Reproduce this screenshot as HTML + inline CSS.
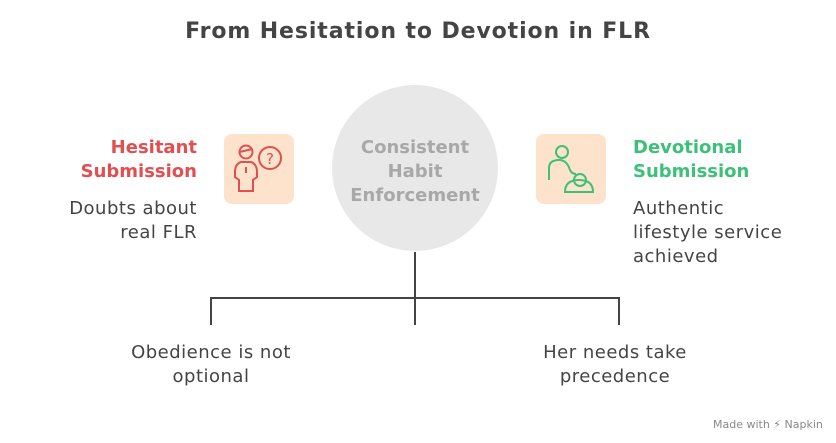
<!DOCTYPE html>
<html><head><style>
body{margin:0;width:836px;height:443px;background:#fff;position:relative;font-family:"DejaVu Sans","Liberation Sans",sans-serif;overflow:hidden}
.t{position:absolute;white-space:nowrap;letter-spacing:0.5px}
.b{letter-spacing:0}
</style></head><body>
<div class="t" style="left:0;width:836px;top:19px;text-align:center;font-size:22px;font-weight:bold;color:#444;letter-spacing:0.9px">From Hesitation to Devotion in FLR</div>
<svg width="836" height="443" style="position:absolute;left:0;top:0">
<circle cx="415" cy="168" r="83" fill="#e8e8e8"/>
<g stroke="#444" stroke-width="2" fill="none">
<line x1="415" y1="252" x2="415" y2="325"/>
<line x1="211" y1="298" x2="619" y2="298"/>
<line x1="211" y1="297" x2="211" y2="325"/>
<line x1="619" y1="297" x2="619" y2="325"/>
</g>
<rect x="224" y="134" width="70" height="70" rx="8" fill="#fde3cc"/>
<rect x="536" y="134" width="70" height="70" rx="8" fill="#fde3cc"/>
<g stroke="#e05050" stroke-width="2" fill="none">
<circle cx="246" cy="152" r="6.5"/><line x1="239.5" y1="152" x2="252.5" y2="149"/>
<path d="M241 162 h10 q6 2 6 10 v5 l-4 3 v11 h-14 v-11 l-4 -3 v-5 q0-8 6-10z"/>
<line x1="246" y1="167" x2="246" y2="173"/>
<circle cx="270" cy="158" r="11"/>
</g>
<text x="270" y="164" font-size="15" fill="#e05050" text-anchor="middle" font-family="DejaVu Sans">?</text>
<g stroke="#3cc07a" stroke-width="2" fill="none">
<circle cx="562" cy="152" r="6"/>
<path d="M549 180 v-12 q0-8 10-8 q8 0 11 10 q2 4 6 4"/>
<circle cx="580" cy="180" r="6"/>
<path d="M565 192 q0-12 14-12 q14 0 14 12z"/>
</g>
</svg>
<div class="t b" style="left:315px;width:200px;top:136px;text-align:center;font-size:18px;font-weight:bold;color:#a8a8a8;line-height:24px">Consistent<br>Habit<br>Enforcement</div>
<div class="t b" style="right:639px;top:136px;text-align:right;font-size:18px;font-weight:bold;color:#e05050;line-height:24px">Hesitant<br>Submission</div>
<div class="t" style="right:639px;top:197px;text-align:right;font-size:18px;color:#444;line-height:24px">Doubts about<br>real FLR</div>
<div class="t b" style="left:633px;top:136px;font-size:18px;font-weight:bold;color:#3cc07a;line-height:24px">Devotional<br>Submission</div>
<div class="t" style="left:633px;top:197px;font-size:18px;color:#444;line-height:24px">Authentic<br>lifestyle service<br>achieved</div>
<div class="t" style="left:93px;width:236px;top:341px;text-align:center;font-size:18px;color:#444;line-height:24px">Obedience is not<br>optional</div>
<div class="t" style="left:497px;width:236px;top:341px;text-align:center;font-size:18px;color:#444;line-height:24px">Her needs take<br>precedence</div>
<div class="t" style="left:713px;top:418px;font-size:11px;color:#888;letter-spacing:0">Made with ⚡ Napkin</div>
</body></html>
